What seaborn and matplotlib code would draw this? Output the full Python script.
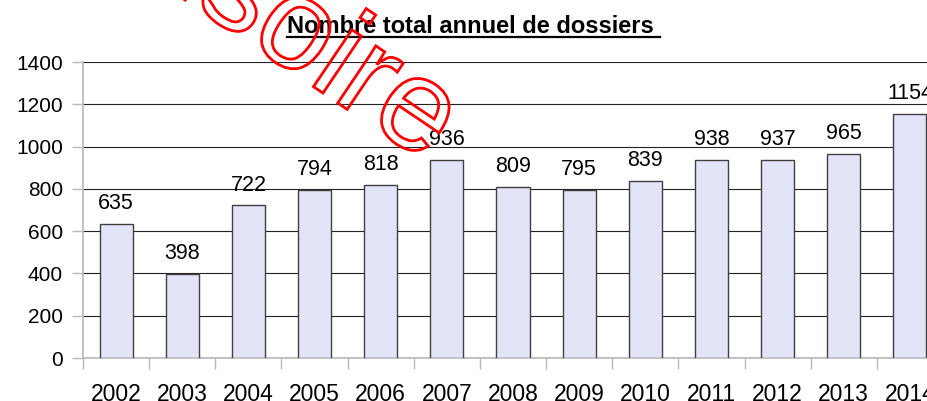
import matplotlib
matplotlib.use("Agg")
import matplotlib.pyplot as plt
from matplotlib.textpath import TextPath
from matplotlib.patches import PathPatch
from matplotlib.font_manager import FontProperties
from matplotlib.transforms import Affine2D, IdentityTransform
from matplotlib.lines import Line2D
import seaborn as sns
import numpy as np

years = ["2002", "2003", "2004", "2005", "2006", "2007", "2008",
         "2009", "2010", "2011", "2012", "2013", "2014"]
dossiers = [635, 398, 722, 794, 818, 936, 809, 795, 839, 938, 937, 965, 1154]
title = "Nombre total annuel de dossiers "
watermark = "Provisoire"

plt.rcParams['font.family'] = ['Liberation Sans', 'DejaVu Sans']

fig = plt.figure(figsize=(9.27, 4.01), dpi=100)
# the plot area runs past the right edge, as in the source image
ax = fig.add_axes([83 / 927, 1 - 358 / 401, 860 / 927, 296 / 401])

sns.barplot(x=years, y=dossiers, color="#e4e4f8", saturation=1,
            edgecolor="#404040", linewidth=1, width=0.5, ax=ax, zorder=3)
ax.bar_label(ax.containers[0], padding=7, fontsize=15.5)

ax.set_ylim(0, 1400)
ax.set_yticks(np.arange(0, 1401, 200))
ax.set_xlim(-0.5, len(years) - 0.5)
ax.yaxis.grid(True, color="#222222", linewidth=0.8, zorder=0)
ax.set_axisbelow(True)
for s in ["top", "right"]:
    ax.spines[s].set_visible(False)
for s in ["left", "bottom"]:
    ax.spines[s].set_color("#b8b8b8")
    ax.spines[s].set_linewidth(1.2)

ax.tick_params(axis="y", length=8, width=1, color="#b8b8b8", pad=6.5, labelsize=15)
ax.tick_params(axis="x", which="major", length=0, pad=18, labelsize=16.5)
ax.set_xticks(np.arange(-0.5, len(years), 1), minor=True)
ax.tick_params(axis="x", which="minor", length=8, width=1, color="#b8b8b8")
ax.set_xlabel("")
ax.set_ylabel("")

# title with underline
t = fig.text(287 / 927, 1 - 33 / 401, title, fontsize=17, fontweight="bold",
             ha="left", va="baseline")
fig.canvas.draw()
bb = t.get_window_extent(fig.canvas.get_renderer())
fig.add_artist(Line2D([bb.x0, bb.x1], [401 - 37, 401 - 37],
                      transform=IdentityTransform(), color="black", linewidth=1.6))

# hollow red watermark
S = 130
tp = TextPath((0, 0), watermark, size=S, prop=FontProperties(family="Liberation Sans"))
w = tp.get_extents().x1
rot = Affine2D().rotate_deg(-34)
ex, ey = rot.transform((w - 0.28 * S, 0.26 * S))
tr = rot + Affine2D().translate(410 - ex, (401 - 111) - ey)
fig.add_artist(PathPatch(tr.transform_path(tp), facecolor="none", edgecolor="red",
                         linewidth=2, transform=IdentityTransform(), zorder=10))

fig.savefig("out.png", dpi=100)
